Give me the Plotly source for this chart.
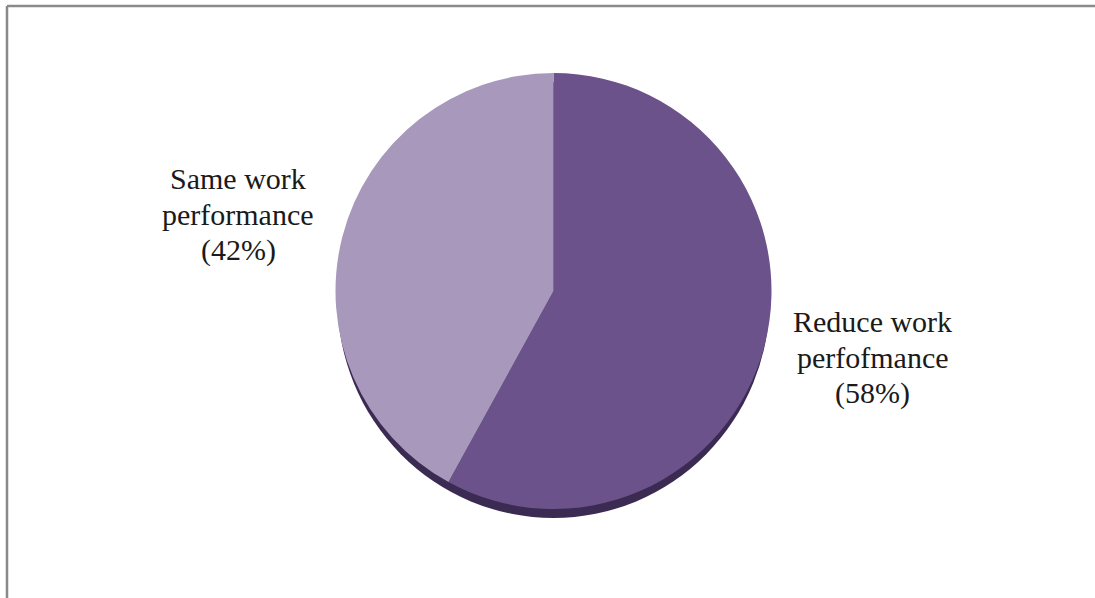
import plotly.graph_objects as go

labels = ["Reduce work perfofmance", "Same work performance"]
values = [58, 42]
label_lines = [["Reduce work", "perfofmance", "(58%)"], ["Same work", "performance", "(42%)"]]
colors = ["#6B528A", "#A899BC"]

W, H = 1095, 598
cx, cy, r = 553.5, 291, 218

def px_x(x):
    return x / W

def px_y(y):
    return 1 - y / H

fig = go.Figure()
fig.add_trace(go.Pie(
    labels=labels,
    values=values,
    sort=False,
    direction="clockwise",
    rotation=0,
    marker=dict(colors=colors, line=dict(width=0)),
    textinfo="none",
    hoverinfo="label+percent",
    showlegend=False,
    domain=dict(x=[px_x(cx - r), px_x(cx + r)], y=[px_y(cy + r), px_y(cy - r)]),
))

shapes = [
    dict(type="circle", xref="paper", yref="paper", layer="below",
         x0=px_x(cx - r + 2), x1=px_x(cx + r - 2),
         y0=px_y(cy + r + 9), y1=px_y(cy - r + 9),
         fillcolor="#3B2A52", line=dict(width=0)),
    dict(type="line", xref="paper", yref="paper", x0=px_x(7), x1=1, y0=px_y(6), y1=px_y(6),
         line=dict(color="#8A8A8A", width=2.5)),
    dict(type="line", xref="paper", yref="paper", x0=px_x(7), x1=px_x(7), y0=0, y1=px_y(6),
         line=dict(color="#8A8A8A", width=2.5)),
]

font = dict(family="Liberation Serif, Times New Roman, serif", size=30, color="#1A1A1A")
label_centers = [(873, 321), (238, 178)]
annotations = []
for lines, (lx, ly) in zip(label_lines, label_centers):
    for i, line in enumerate(lines):
        annotations.append(dict(text=line, xref="paper", yref="paper",
                                x=px_x(lx), y=px_y(ly + 36 * i),
                                xanchor="center", yanchor="middle", showarrow=False,
                                font=font))

fig.update_layout(
    width=W, height=H,
    margin=dict(l=0, r=0, t=0, b=0),
    paper_bgcolor="white",
    plot_bgcolor="white",
    shapes=shapes,
    annotations=annotations,
)

fig.write_html("out.html")
